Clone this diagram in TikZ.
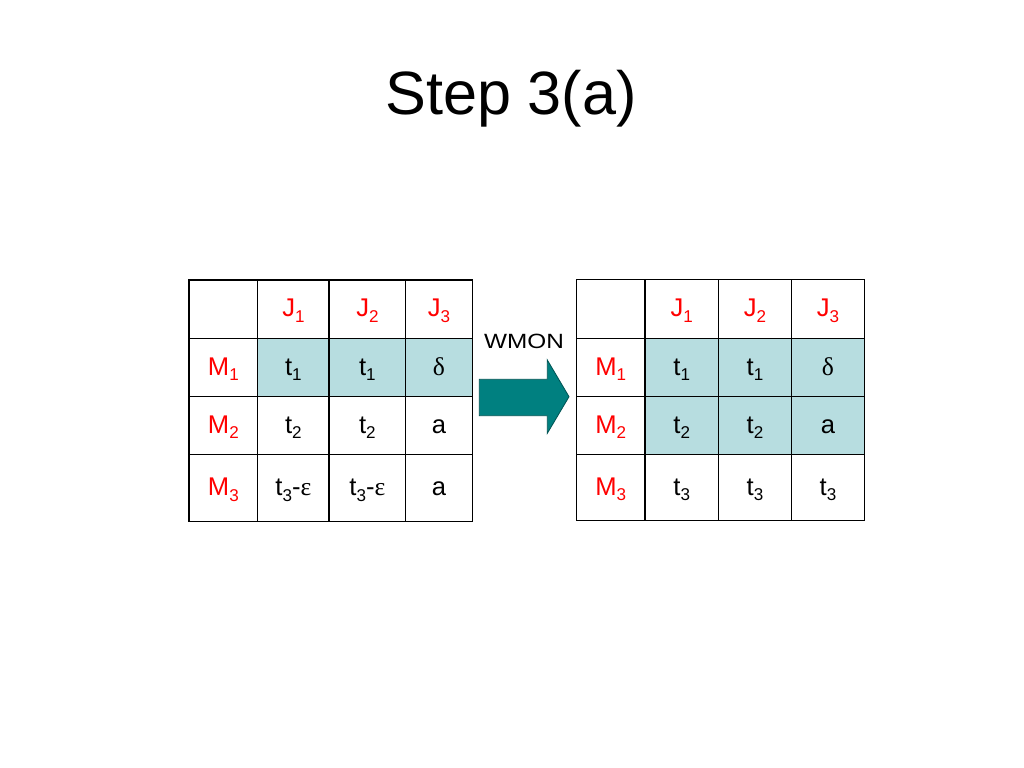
\documentclass[tikz,border=0pt]{standalone}
\usepackage{fontspec}
\setmainfont{Liberation Sans}
\newfontfamily\grk{Liberation Serif}
\newcommand\tsub[2]{#1\raisebox{-4.2pt}{\fontsize{12}{12}\selectfont #2}}
\definecolor{cellfill}{RGB}{183,221,224}
\definecolor{arrowfill}{RGB}{0,128,128}
\definecolor{arrowline}{RGB}{0,85,85}
\tikzset{
  cell/.style={anchor=base, inner sep=0pt, font=\fontsize{18}{18}\selectfont},
  rhead/.style={cell, text=red},
  grid/.style={draw=black, line width=1.1pt},
  hl/.style={fill=cellfill},
}
\begin{document}
\begin{tikzpicture}[x=0.703125pt, y=-0.703125pt]
\useasboundingbox[fill=white] (0,0) rectangle (1024,768);

% title
\node[anchor=base, inner sep=0pt, font=\fontsize{43}{43}\selectfont] (title) at (511,115) {Step 3(a)};

% ---------- left table ----------
\fill[hl] (257.7,338.3) rectangle (472.3,396.7);
\draw[grid] (189,280) rectangle (472.3,521.7);
\foreach \x in {257.7,329,405.7} \draw[grid] (\x,280) -- (\x,521.7);
\foreach \y in {338.3,396.7,454.3} \draw[grid] (189,\y) -- (472.3,\y);

\node[rhead] (lJ1) at (293.4,316.2) {\tsub{J}{1}};
\node[rhead] (lJ2) at (367.4,316.2) {\tsub{J}{2}};
\node[rhead] (lJ3) at (439,316.2) {\tsub{J}{3}};
\node[rhead] (lM1) at (223.4,375) {\tsub{M}{1}};
\node[rhead] (lM2) at (223.4,433) {\tsub{M}{2}};
\node[rhead] (lM3) at (223.4,495.5) {\tsub{M}{3}};
\node[cell] (l11) at (293.4,375) {\tsub{t}{1}};
\node[cell] (l12) at (367.4,375) {\tsub{t}{1}};
\node[cell] (l13) at (439,375) {\grk δ};
\node[cell] (l21) at (293.4,433) {\tsub{t}{2}};
\node[cell] (l22) at (367.4,433) {\tsub{t}{2}};
\node[cell] (l23) at (439,433) {a};
\node[cell] (l31) at (293.4,495.5) {\tsub{t}{3}-{\grk ε}};
\node[cell] (l32) at (367.4,495.5) {\tsub{t}{3}-{\grk ε}};
\node[cell] (l33) at (439,495.5) {a};

% ---------- arrow ----------
\filldraw[fill=arrowfill, draw=arrowline, line width=0.6pt]
  (479.3,379.3) -- (547.3,379.3) -- (547.3,360) -- (569,396.7)
  -- (547.3,433.3) -- (547.3,415.7) -- (479.3,415.7) -- cycle;
\node[anchor=base, inner sep=0pt, font=\fontsize{14.5}{14.5}\selectfont, xscale=1.18] (wmon) at (524,348.3) {WMON};

% ---------- right table ----------
\fill[hl] (645,338.3) rectangle (864.3,454.3);
\draw[grid] (576.7,279.3) rectangle (864.3,520.7);
\foreach \x in {645,718.3,791.7} \draw[grid] (\x,279.3) -- (\x,520.7);
\foreach \y in {338.3,396.7,454.3} \draw[grid] (576.7,\y) -- (864.3,\y);

\node[rhead] (rJ1) at (681.7,316.2) {\tsub{J}{1}};
\node[rhead] (rJ2) at (755,316.2) {\tsub{J}{2}};
\node[rhead] (rJ3) at (828,316.2) {\tsub{J}{3}};
\node[rhead] (rM1) at (610.8,375) {\tsub{M}{1}};
\node[rhead] (rM2) at (610.8,433) {\tsub{M}{2}};
\node[rhead] (rM3) at (610.8,495) {\tsub{M}{3}};
\node[cell] (r11) at (681.7,375) {\tsub{t}{1}};
\node[cell] (r12) at (755,375) {\tsub{t}{1}};
\node[cell] (r13) at (828,375) {\grk δ};
\node[cell] (r21) at (681.7,433) {\tsub{t}{2}};
\node[cell] (r22) at (755,433) {\tsub{t}{2}};
\node[cell] (r23) at (828,433) {a};
\node[cell] (r31) at (681.7,495) {\tsub{t}{3}};
\node[cell] (r32) at (755,495) {\tsub{t}{3}};
\node[cell] (r33) at (828,495) {\tsub{t}{3}};
\end{tikzpicture}
\end{document}
